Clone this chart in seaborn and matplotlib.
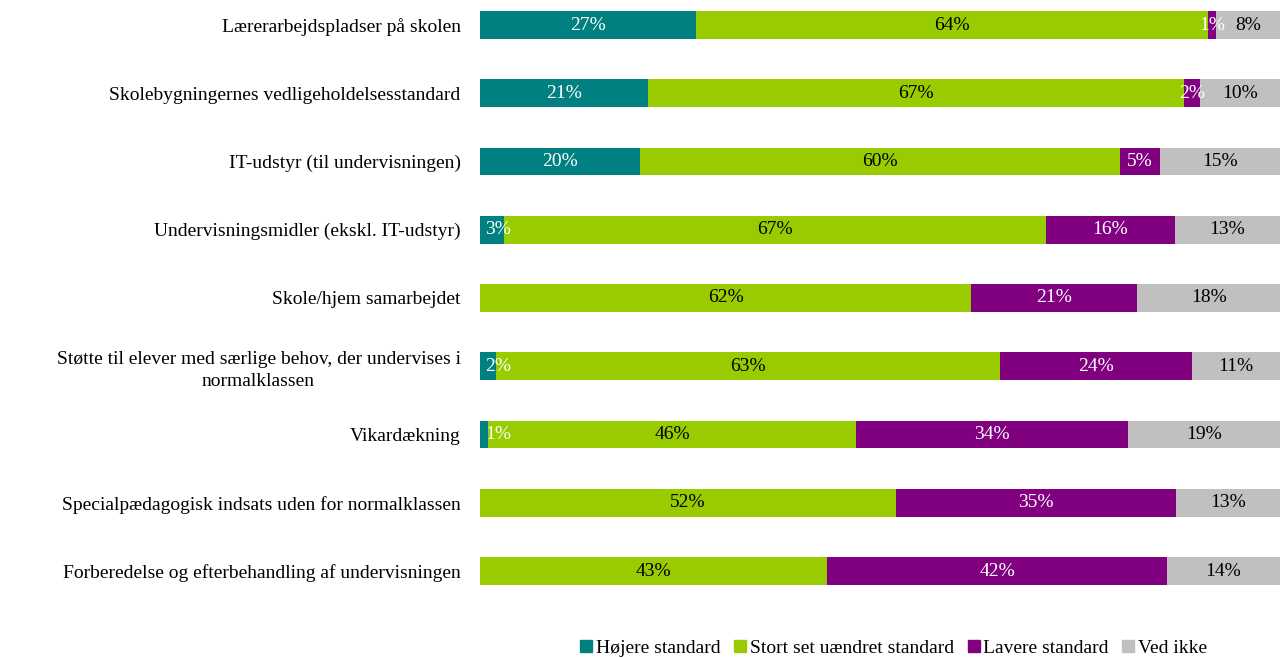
import numpy as np
import pandas as pd
import matplotlib.pyplot as plt
import seaborn as sns
from matplotlib.lines import Line2D

# ---------- Data ----------
categories = [
    "Lærerarbejdspladser på skolen",
    "Skolebygningernes vedligeholdelsesstandard",
    "IT-udstyr (til undervisningen)",
    "Undervisningsmidler (ekskl. IT-udstyr)",
    "Skole/hjem samarbejdet",
    "Støtte til elever med særlige behov, der undervises i\nnormalklassen",
    "Vikardækning",
    "Specialpædagogisk indsats uden for normalklassen",
    "Forberedelse og efterbehandling af undervisningen",
]
hojere = [27, 21, 20, 3, 0, 2, 1, 0, 0]
uaendret = [64, 67, 60, 67, 62, 63, 46, 52, 43]
lavere = [1, 2, 5, 16, 21, 24, 34, 35, 42]
ved_ikke = [8, 10, 15, 13, 18, 11, 19, 13, 14]

series_names = ["Højere standard", "Stort set uændret standard",
                "Lavere standard", "Ved ikke"]
colors = ["#008080", "#99CC00", "#800080", "#C0C0C0"]
text_colors = ["white", "black", "white", "black"]

# ---------- Prepare ----------
sns.set_style("white")
plt.rcParams["font.family"] = ["Liberation Serif", "DejaVu Serif"]

vals = np.array([hojere, uaendret, lavere, ved_ikke], dtype=float)
shares = vals / vals.sum(axis=0) * 100  # rows drawn as full 100% bars
cum = np.cumsum(shares, axis=0)

fig = plt.figure(figsize=(12.81, 6.58), dpi=100)
ax = fig.add_axes([480 / 1281, 1 - 610 / 658, 800 / 1281, 610 / 658])

# stacked bars: draw cumulative totals from largest to smallest
for k in range(3, -1, -1):
    df = pd.DataFrame({"kategori": categories, "v": cum[k]})
    sns.barplot(data=df, y="kategori", x="v", orient="y", color=colors[k],
                width=0.41, saturation=1, ax=ax, linewidth=0)

# value labels
for i in range(len(categories)):
    for k in range(4):
        if vals[k, i] <= 0:
            continue
        start = cum[k, i] - shares[k, i]
        xc = start + shares[k, i] / 2
        if k == 0 and shares[k, i] < 4:
            xc = start + 2.3
        ax.text(xc, i, f"{int(vals[k, i])}%", ha="center", va="center",
                color=text_colors[k], fontsize=14)

ax.set_xlim(0, 100)
ax.set_ylim(585 / 68.25, -25 / 68.25)
ax.set_xlabel("")
ax.set_ylabel("")
ax.set_xticks([])
ax.tick_params(axis="y", length=0, pad=14, labelsize=14, labelcolor="black")
for t in ax.get_yticklabels():
    t.set_multialignment("center")
    t.set_linespacing(1.35)
sns.despine(ax=ax, left=True, bottom=True)

handles = [Line2D([0], [0], marker="s", linestyle="", markersize=8,
                  markerfacecolor=c, markeredgecolor=c) for c in colors]
fig.legend(handles, series_names, loc="center", bbox_to_anchor=(0.697, 1 - 648 / 658),
           ncol=4, frameon=False, fontsize=14, handletextpad=0.1,
           columnspacing=0.6, handlelength=0.8, labelcolor="black")

fig.savefig("out.png", dpi=100)
